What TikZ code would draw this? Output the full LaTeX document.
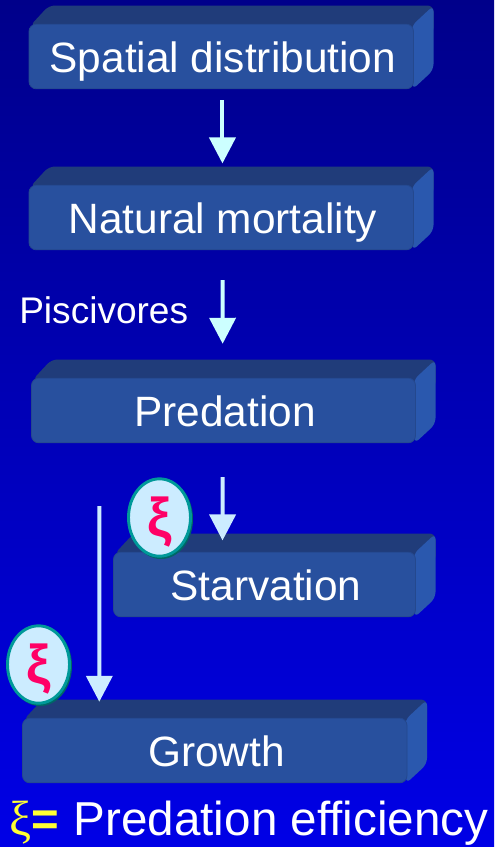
\documentclass[tikz,border=0pt]{standalone}
\usepackage{fontspec}
\setmainfont{Liberation Sans}
\newfontfamily\serifgreek{Liberation Serif}
\usetikzlibrary{arrows.meta,shapes.geometric,calc}
\definecolor{bgtop}{HTML}{00008A}
\definecolor{bgbot}{HTML}{0000E6}
\definecolor{boxfront}{HTML}{28509E}
\definecolor{boxtop}{HTML}{203C7A}
\definecolor{boxside}{HTML}{2A58AE}
\definecolor{flowA}{HTML}{CCFFFF}
\definecolor{flowB}{HTML}{CCECFF}
\definecolor{ringc}{HTML}{009999}
\definecolor{ringd}{HTML}{006666}
\definecolor{xipink}{HTML}{FF0066}
\definecolor{xiyellow}{HTML}{FFFF33}
\tikzset{
  boxface/.style={fill=boxfront,draw=boxfront!90!black,line width=.6pt,rounded corners=5.5pt,inner sep=0pt,
    text=white,font=\fontsize{31.8}{36}\selectfont,minimum height=48.5pt,text height=24pt,text depth=0pt},
  flow/.style={draw=#1,line width=3pt,-{Triangle[width=19.5pt,length=19.5pt,fill=#1]}},
  token/.style={ellipse,fill=flowB,draw=ringc,line width=2.2pt,minimum width=46.5pt,minimum height=58pt,inner sep=0pt,
    text=xipink},
  tokentext/.style={inner sep=0pt,text=xipink,font=\fontsize{41}{42}\selectfont\bfseries},
}
% #1 name, #2 left, #3 top of front, #4 right, #5 bottom, #6 text, depth fixed at 20x18 px
\newcommand{\solidbox}[6]{
  \fill[boxtop,rounded corners=4.5pt] (#2+1,#3+2) -- (#2+20,#3-18.5) -- (#4+20,#3-18.5) -- (#4+20,#3+10) -- (#4,#3+12) -- cycle;
  \fill[boxside,rounded corners=4.5pt] (#4-2,#3+2) -- (#4+20,#3-18.5) -- (#4+20,#5-19) -- (#4-1,#5+0.5) -- cycle;
  \node[boxface,minimum width={(#4-#2)*0.75pt}] (#1) at ({(#2+#4)/2},{(#3+#5)/2}) {\kern2.4pt #6};
}
\begin{document}
\begin{tikzpicture}[x=0.75pt,y=-0.75pt]
\useasboundingbox (0,0) rectangle (494,847);
\shade[top color=bgtop,bottom color=bgbot,shading angle=0] (0,0) rectangle (494,847);
\solidbox{spatial}{29}{24}{413.5}{89}{Spatial distribution}
\solidbox{natural}{29}{185}{413.5}{250}{Natural mortality}
\solidbox{predation}{31.5}{378}{415.5}{443}{Predation}
\solidbox{starvation}{113.5}{552}{415.5}{617}{Starvation}
\solidbox{growth}{22.5}{718}{407}{783}{Growth}
\draw[flow=flowA,shorten <=8.25pt,shorten >=16pt] ([xshift=.9pt]spatial.south) -- ([xshift=.9pt]natural.north);
\draw[flow=flowA,shorten <=22.5pt,shorten >=25.5pt] ([xshift=.9pt]natural.south) -- ([xshift=-.6pt]predation.north);
\node[anchor=base west,text=white,inner sep=0pt,font=\fontsize{27.8}{30}\selectfont] (piscivores) at (19,323) {Piscivores};
\draw[flow=flowB,shorten <=25.5pt,shorten >=8.5pt] ([xshift=-.6pt]predation.south) -- ([xshift=-31.5pt]starvation.north);
\draw[flow=flowB,shorten <=47.25pt,shorten >=12pt] ([xshift=-93pt]predation.south) -- ([xshift=-86.6pt]growth.north);
\fill[ringd] (161,519) ellipse (32 and 40);
\node[token] (xia) at (159.5,517.5) {};
\node[tokentext] (xiaglyph) at (159.5,522) {ξ};
\fill[ringd] (40,666) ellipse (32 and 40);
\node[token] (xib) at (38.5,664.5) {};
\node[tokentext] (xibglyph) at (39,669) {ξ};
\node[anchor=base west,inner sep=0pt,text=xiyellow,font=\serifgreek\fontsize{37}{38}\selectfont] (legxi) at (9,835) {ξ};
\node[anchor=base west,inner sep=0pt,text=xiyellow,font=\fontsize{35.5}{36}\selectfont\bfseries] (legeq) at (31,835) {=};
\node[anchor=base west,inner sep=0pt,text=white,font=\fontsize{35.7}{36}\selectfont] (legend) at (73.5,835) {Predation efficiency};
\end{tikzpicture}
\end{document}
